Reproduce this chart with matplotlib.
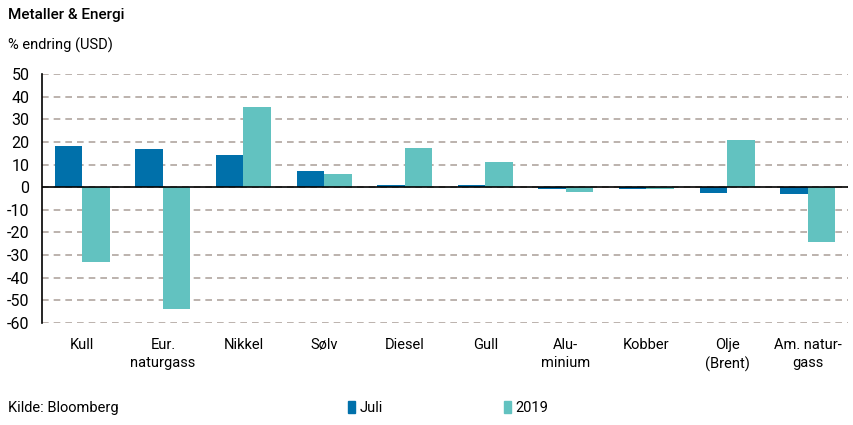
import numpy as np
import matplotlib
matplotlib.use("Agg")
import matplotlib.pyplot as plt
from matplotlib.patches import Patch

categories = ["Kull", "Eur.\nnaturgass", "Nikkel", "Sølv", "Diesel", "Gull",
              "Alu-\nminium", "Kobber", "Olje\n(Brent)", "Am. natur-\ngass"]
juli = [18, 17, 14, 7, 1, 1, -1, -1, -2.5, -3]
aar_2019 = [-33, -54, 35.5, 6, 17.5, 11, -2, -0.8, 21, -24]
yticks = list(range(-60, 51, 10))

blue = "#0070AA"
teal = "#62C2C0"
grid_col = "#B0A69F"

plt.rcParams['font.family'] = ['Roboto', 'DejaVu Sans']

fig = plt.figure(figsize=(8.54, 4.25), dpi=100)
ax = fig.add_axes([42/854, (425-323)/425, (848-42)/854, (323-74)/425])

x = np.arange(len(categories))
w = 0.34
ax.bar(x - w/2, juli, width=w, color=blue, zorder=3)
ax.bar(x + w/2, aar_2019, width=w, color=teal, zorder=3)

ax.set_xlim(-0.5, len(categories) - 0.5)
ax.set_ylim(-60, 50)
ax.set_yticks(yticks)
ax.set_yticklabels([str(v) for v in yticks], fontsize=11.5)
ax.yaxis.grid(True, linestyle=(0, (4, 3)), color=grid_col, linewidth=1.2)
ax.set_axisbelow(True)
ax.axhline(0, color="black", linewidth=1.2, zorder=4)

for s in ["top", "right", "bottom"]:
    ax.spines[s].set_visible(False)
ax.spines["left"].set_color("black")
ax.spines["left"].set_linewidth(1.2)
ax.tick_params(axis="y", length=0, pad=9)
ax.tick_params(axis="x", length=0, pad=11)
ax.set_xticks(x)
ax.set_xticklabels(categories, fontsize=10.5, va="top", linespacing=1.35)

fig.text(8/854, 1 - 15/425, "Metaller & Energi", fontsize=11, fontweight="medium", va="center")
fig.text(8/854, 1 - 45/425, "% endring (USD)", fontsize=10.5, va="center")
fig.text(8/854, 1 - 408/425, "Kilde: Bloomberg", fontsize=10.5, va="center")

handles = [Patch(color=blue, label="Juli"), Patch(color=teal, label="2019")]
fig.legend(handles=handles, loc="center", bbox_to_anchor=(448/854, 1 - 408/425),
           ncol=2, frameon=False, fontsize=10.5, handlelength=0.5, handleheight=0.9,
           handletextpad=0.3, columnspacing=8.3)

fig.savefig("out.png", dpi=100)
